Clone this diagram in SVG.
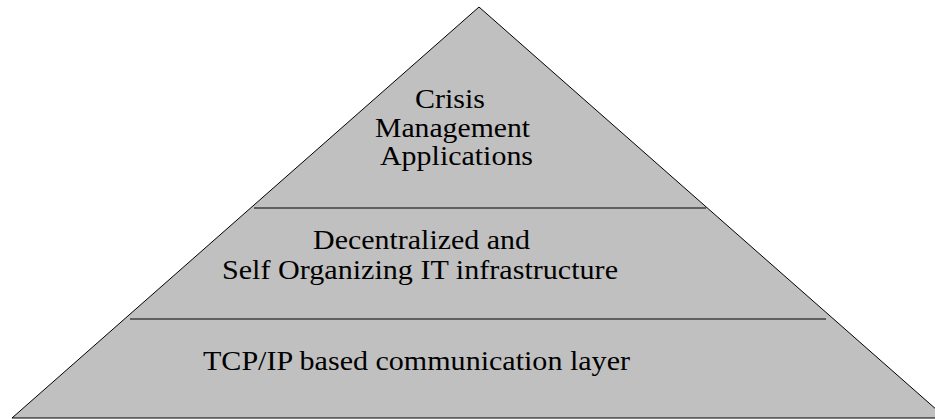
<svg xmlns="http://www.w3.org/2000/svg" width="935" height="419" viewBox="0 0 935 419">
<style>
.t{font-family:"Liberation Serif","Times New Roman",serif;font-size:28px;fill:#000}
.div{stroke:#404040;stroke-width:1.3;fill:none}
</style>
<rect x="0" y="0" width="935" height="419" fill="#fff"/>
<g id="pyramid">
<polygon points="479,7 12,418 946,418" fill="#c0c0c0" stroke="#000" stroke-width="1"/>
</g>
<g id="connectors">
<line class="div" x1="254" y1="208" x2="706" y2="208"/>
<line class="div" x1="130" y1="319" x2="826" y2="319"/>
</g>
<g id="layer-top">
<text class="t" x="415" y="108" textLength="70" lengthAdjust="spacingAndGlyphs">Crisis</text>
<text class="t" x="375" y="137" textLength="155" lengthAdjust="spacingAndGlyphs">Management</text>
<text class="t" x="380" y="165" textLength="153" lengthAdjust="spacingAndGlyphs">Applications</text>
</g>
<g id="layer-middle">
<text class="t" x="313" y="249" textLength="217" lengthAdjust="spacingAndGlyphs">Decentralized and</text>
<text class="t" x="222" y="279" textLength="396" lengthAdjust="spacingAndGlyphs">Self Organizing IT infrastructure</text>
</g>
<g id="layer-bottom">
<text class="t" x="203" y="370" textLength="427" lengthAdjust="spacingAndGlyphs">TCP/IP based communication layer</text>
</g>
</svg>
